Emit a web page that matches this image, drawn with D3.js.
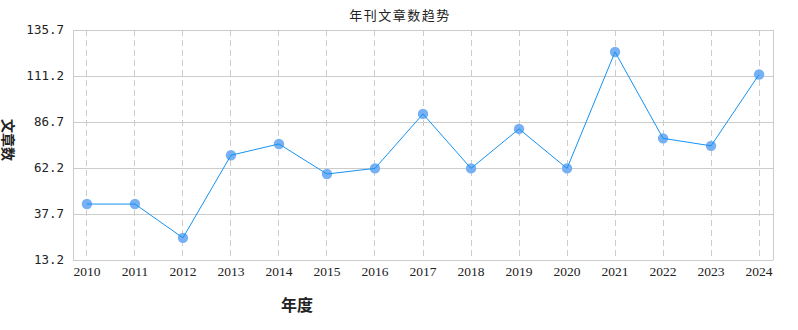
<!DOCTYPE html>
<html>
<head>
<meta charset="utf-8">
<script src="https://cdn.jsdelivr.net/npm/d3@7"></script>
<style>
    body { margin: 0; background: #fff; }
    svg { display: block; }
</style>
</head>
<body>
<div id="svg-container"></div>
<script>
const years = ["2010", "2011", "2012", "2013", "2014", "2015", "2016", "2017", "2018", "2019", "2020", "2021", "2022", "2023", "2024"];
const articleCounts = [43, 43, 25, 69, 75, 59, 62, 91, 62, 83, 62, 124, 78, 74, 112];
const yTicks = [13.2, 37.7, 62.2, 86.7, 111.2, 135.7];

const chartTitle = "年刊文章数趋势";
const xTitle = "年度";
const yTitle = "文章数";

const buildChart = () => {

    let [viewWidth, viewHeight] = [798, 330];
    let margin = {top: 30, right: 25, bottom: 70, left: 73};

    let svg = d3.select("#svg-container")
        .append("svg")
        .attr("width", viewWidth)
        .attr("height", viewHeight);

    const x = d3.scalePoint()
        .domain(years)
        .range([margin.left, viewWidth - margin.right])
        .padding(0.29);

    const y = d3.scaleLinear()
        .domain([yTicks[0], yTicks[yTicks.length - 1]])
        .range([viewHeight - margin.bottom, margin.top]);

    // horizontal grid
    svg.append("g")
        .selectAll("line")
        .data(yTicks)
        .enter()
        .append("line")
        .attr("x1", margin.left)
        .attr("x2", viewWidth - margin.right)
        .attr("y1", d => y(d))
        .attr("y2", d => y(d))
        .attr("stroke", "#cccccc")
        .attr("stroke-width", 1)
        .attr("shape-rendering", "crispEdges");

    // vertical dashed grid
    svg.append("g")
        .selectAll("line")
        .data(years)
        .enter()
        .append("line")
        .attr("x1", d => x(d))
        .attr("x2", d => x(d))
        .attr("y1", margin.top)
        .attr("y2", viewHeight - margin.bottom)
        .attr("stroke", "#cccccc")
        .attr("stroke-dasharray", "6,4")
        .attr("shape-rendering", "crispEdges");

    // frame sides
    [margin.left, viewWidth - margin.right].forEach(px => {
        svg.append("line")
            .attr("x1", px).attr("x2", px)
            .attr("y1", margin.top).attr("y2", viewHeight - margin.bottom)
            .attr("stroke", "#cccccc")
            .attr("shape-rendering", "crispEdges");
    });

    // y labels
    svg.append("g")
        .selectAll("text")
        .data(yTicks)
        .enter()
        .append("text")
        .attr("x", margin.left - 9)
        .attr("y", d => y(d))
        .attr("dy", "0.35em")
        .attr("text-anchor", "end")
        .attr("font-family", "DejaVu Sans Mono, monospace")
        .attr("font-size", 12.5)
        .attr("fill", "#222")
        .text(d => d.toFixed(1));

    // x labels
    svg.append("g")
        .selectAll("text")
        .data(years)
        .enter()
        .append("text")
        .attr("x", d => x(d))
        .attr("y", viewHeight - margin.bottom + 16)
        .attr("text-anchor", "middle")
        .attr("font-family", "Liberation Serif, serif")
        .attr("font-size", 13.5)
        .attr("fill", "#222")
        .text(d => d);

    const line = d3.line()
        .x((d, i) => x(years[i]))
        .y(d => y(d));

    // points
    svg.append("g")
        .selectAll("circle")
        .data(articleCounts)
        .enter()
        .append("circle")
        .attr("cx", (d, i) => x(years[i]))
        .attr("cy", d => y(d))
        .attr("r", 5.2)
        .attr("fill", "#78b0f4");

    svg.append("path")
        .datum(articleCounts)
        .attr("d", line)
        .attr("fill", "none")
        .attr("stroke", "#1493f3")
        .attr("stroke-width", 1);

    // titles
    svg.append("text")
        .attr("x", 400)
        .attr("y", 20)
        .attr("text-anchor", "middle")
        .attr("font-family", "Noto Sans CJK SC")
        .attr("font-size", 13)
        .attr("letter-spacing", 1.5)
        .attr("fill", "#222")
        .text(chartTitle);

    svg.append("text")
        .attr("x", 297)
        .attr("y", 311)
        .attr("text-anchor", "middle")
        .attr("font-family", "Noto Sans CJK SC")
        .attr("font-weight", 700)
        .attr("font-size", 16)
        .attr("fill", "#222")
        .text(xTitle);

    svg.append("text")
        .attr("transform", "translate(3,140) rotate(90)")
        .attr("text-anchor", "middle")
        .attr("font-family", "Noto Sans CJK SC")
        .attr("font-weight", 700)
        .attr("font-size", 14)
        .attr("fill", "#222")
        .text(yTitle);
};

buildChart();
</script>
</body>
</html>
